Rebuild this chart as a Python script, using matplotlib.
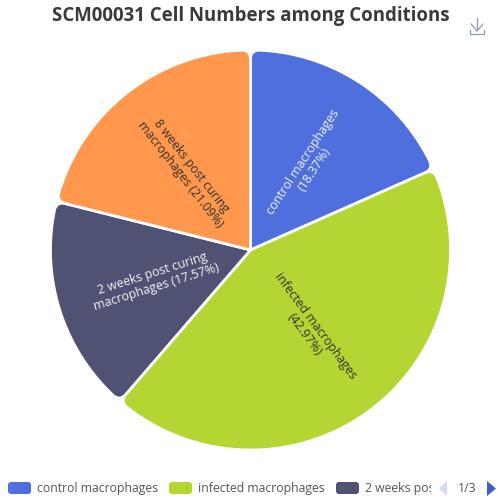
import matplotlib
matplotlib.use('Agg')
import matplotlib.pyplot as plt
import numpy as np
from matplotlib.path import Path
from matplotlib.patches import FancyBboxPatch, PathPatch, Polygon
from matplotlib.transforms import Bbox

plt.rcParams['font.family'] = ['Open Sans', 'DejaVu Sans']

# data
shares = [18.37, 42.97, 17.57, 21.09]
slice_labels = ['control macrophages\n(18.37%)', 'infected macrophages\n(42.97%)',
                '2 weeks post curing\nmacrophages (17.57%)', '8 weeks post curing\nmacrophages (21.09%)']
colors = ['#4f6fdf', '#b3d632', '#4f5272', '#ff974c']
text_colors = ['#f2f2f2', '#333333', '#f2f2f2', '#333333']
legend_names = ['control macrophages', 'infected macrophages', '2 weeks post curing macrophages']

W = 501
cx, cy, R = 250.5, 251, 200
corner = 9
# small label shifts, the reference font sits a bit differently
nudge_x = [4, 0, -1, -3]
nudge_y = [0, 0, 0, 1]


def rounded_path(center, radius, t1, t2, rc):
    # wedge with rounded outer corners, angles in degrees
    t1r, t2r = np.radians(t1), np.radians(t2)
    d = rc / radius
    arc = np.linspace(t1r + d, t2r - d, 80)
    pt = lambda r, a: (center[0] + r * np.cos(a), center[1] + r * np.sin(a))
    verts = [center, pt(radius - rc, t1r), pt(radius, t1r), pt(radius, arc[0])]
    codes = [Path.MOVETO, Path.LINETO, Path.CURVE3, Path.CURVE3]
    for a in arc[1:]:
        verts.append(pt(radius, a))
        codes.append(Path.LINETO)
    verts += [pt(radius, t2r), pt(radius - rc, t2r), center]
    codes += [Path.CURVE3, Path.CURVE3, Path.CLOSEPOLY]
    return Path(verts, codes)


fig = plt.figure(figsize=(5.01, 5.01), dpi=100)
ax = fig.add_axes([0, 0, 1, 1])

wedges, _ = ax.pie(shares, colors=colors, startangle=90, counterclock=False,
                   center=(cx, cy), radius=R, frame=True)
ax.set_xlim(0, W)
ax.set_ylim(0, W)
ax.set_aspect('auto')
ax.axis('off')

for i, w in enumerate(wedges):
    t1, t2 = w.theta1, w.theta2
    w.set_visible(False)
    ax.add_patch(PathPatch(rounded_path((cx, cy), R, t1, t2, corner), facecolor=colors[i],
                           edgecolor='white', linewidth=2.0, joinstyle='round'))
    mid = (t1 + t2) / 2
    x = cx + R / 2 * np.cos(np.radians(mid)) + nudge_x[i]
    y = cy + R / 2 * np.sin(np.radians(mid)) + nudge_y[i]
    rot = (mid + 180) % 360 - 180
    if rot > 90 or rot < -90:
        rot += 180
    ax.text(x, y, slice_labels[i], rotation=rot, rotation_mode='anchor', ha='center', va='center',
            multialignment='center', fontsize=8.95, color=text_colors[i], linespacing=1.05)

ax.text(250.5, W - 16, 'SCM00031 Cell Numbers among Conditions', ha='center', va='center',
        fontsize=13.4, fontweight='bold', color='#3a3a3a')

# legend, first page only
swatch_x = [8, 169, 336]
text_x = [37, 198, 365]
for sx, tx, c, n in zip(swatch_x, text_x, colors, legend_names):
    ax.add_patch(FancyBboxPatch((sx + 3, W - 491), 17, 6, boxstyle='round,pad=3,rounding_size=3',
                                facecolor=c, edgecolor='none'))
    t = ax.text(tx, W - 488.5, n, ha='left', va='center', fontsize=8.8, color='#555555', clip_on=True)
    t.set_clip_box(Bbox([[0, 0], [431, W]]))

# legend pager
ax.add_patch(Polygon([(447, W - 481), (447, W - 496), (439, W - 488.5)], facecolor='#d3dcef', edgecolor='none'))
ax.text(467, W - 488.5, '1/3', ha='center', va='center', fontsize=8.8, color='#555555')
ax.add_patch(Polygon([(487, W - 481), (487, W - 496), (496, W - 488.5)], facecolor='#3f5fc4', edgecolor='none'))

# download icon
icon = '#8b9bb4'
ax.plot([477, 477], [W - 18, W - 30], color=icon, lw=0.9)
ax.plot([471, 477, 483], [W - 24, W - 31, W - 24], color=icon, lw=0.9)
ax.plot([470, 470, 484, 484], [W - 30, W - 34, W - 34, W - 30], color=icon, lw=0.9)

fig.savefig('out.png', dpi=100)
